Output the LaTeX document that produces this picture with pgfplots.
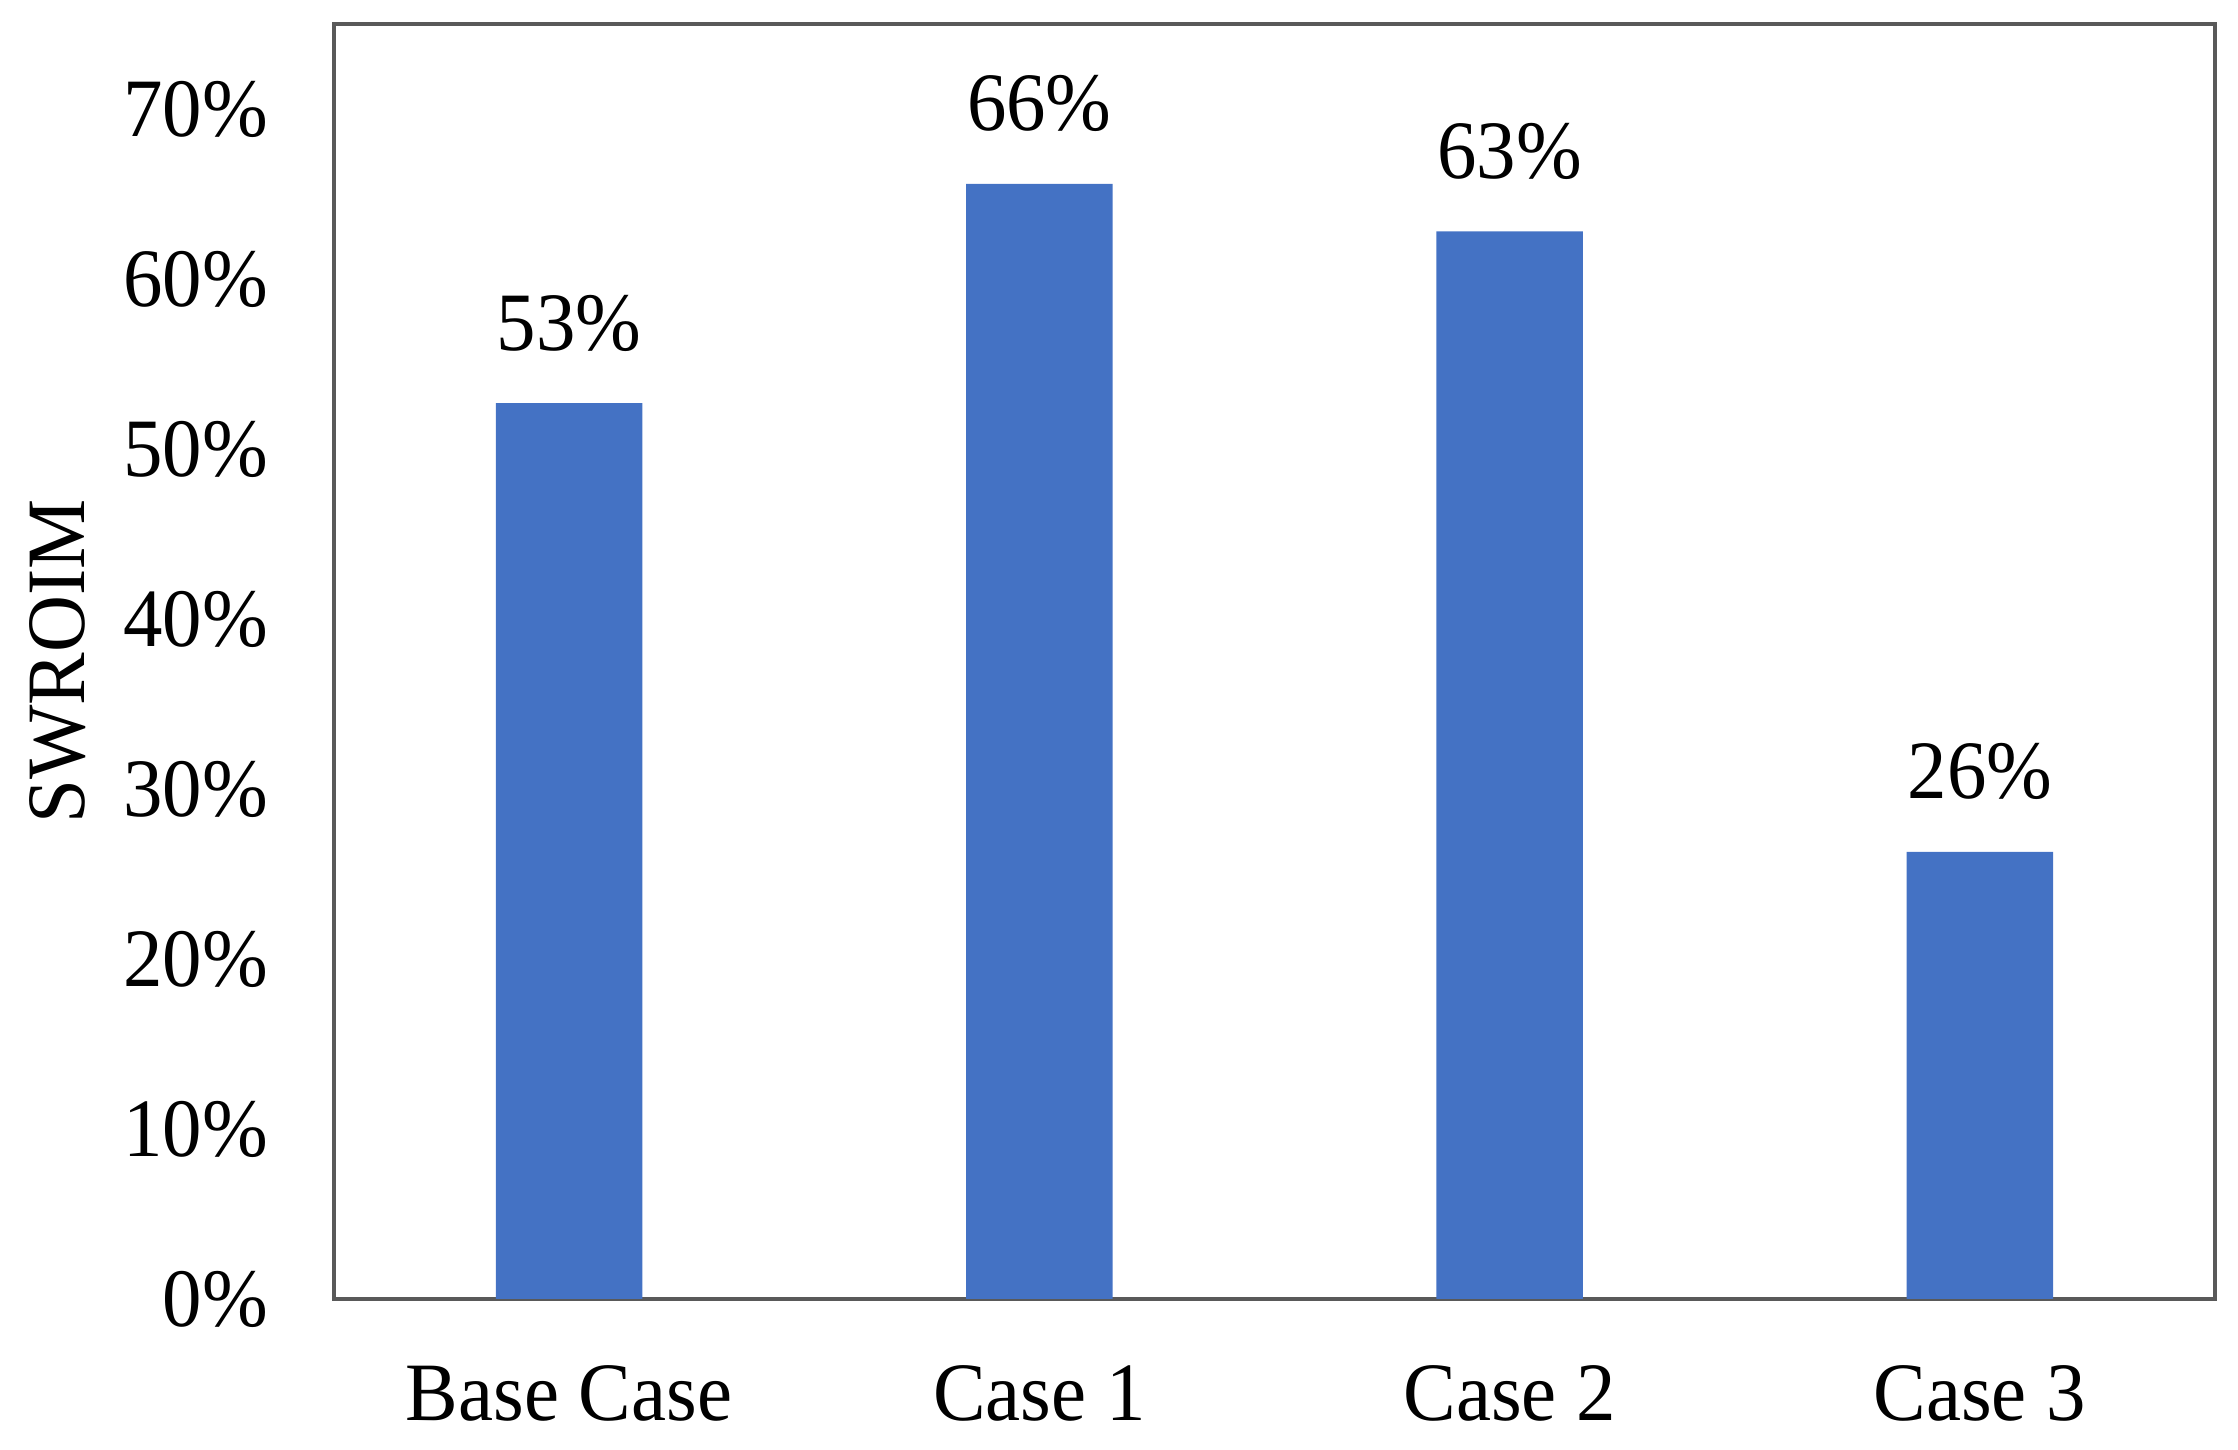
\documentclass[border=0pt]{standalone}
\usepackage{fontspec}
\setmainfont{Liberation Serif}[FakeStretch=0.95]
\usepackage{pgfplots}
\pgfplotsset{compat=1.18}
\definecolor{barblue}{HTML}{4472C4}
\definecolor{framegray}{HTML}{595959}
\begin{document}
\fontsize{16.6}{20}\selectfont
\begin{tikzpicture}
\begin{axis}[
  scale only axis, width=376.2pt, height=255pt,
  xmin=-0.5, xmax=3.5, ymin=0, ymax=0.75,
  ybar, bar width=29.3pt,
  /pgf/number format/assume math mode=true,
  xtick={0,1,2,3}, xticklabels={Base Case, Case 1, Case 2, Case 3},
  ytick={0,0.1,0.2,0.3,0.4,0.5,0.6,0.7},
  yticklabels={0\%,10\%,20\%,30\%,40\%,50\%,60\%,70\%},
  major tick length=0pt,
  axis line style={framegray, line width=0.9pt},
  tick label style={font=\fontsize{16.6}{20}\selectfont},
  yticklabel style={anchor=east, inner sep=0pt, xshift=-13pt},
  xticklabel style={anchor=base, inner sep=0pt, yshift=-24.3pt},
  ylabel={SWROIM},
  ylabel style={at={(axis description cs:-0.1467,0.5)}, anchor=center, font=\fontsize{16.6}{20}\selectfont},
  nodes near coords={\pgfmathprintnumber[fixed,precision=0,assume math mode=true]{\pgfplotspointmeta}\%},
  point meta={y*100},
  nodes near coords style={anchor=base, inner sep=0pt, yshift=10.6pt, font=\fontsize{16.6}{20}\selectfont, text=black},
]
\addplot[fill=barblue, draw=none] coordinates {(0,0.527) (1,0.656) (2,0.628) (3,0.263)};
\end{axis}
\pgfresetboundingbox
\path[use as bounding box] ([shift={(-66.8pt,-30.2pt)}]current axis.south west) rectangle ([shift={(4.6pt,4.8pt)}]current axis.north east);
\end{tikzpicture}
\end{document}
